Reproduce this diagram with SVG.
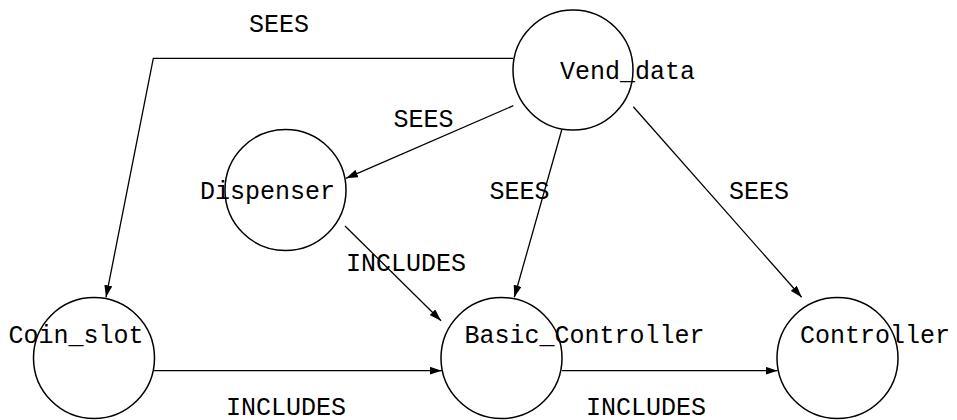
<svg xmlns="http://www.w3.org/2000/svg" width="957" height="420" viewBox="0 0 957 420">
  <defs>
    <marker id="arrow" viewBox="0 0 12 8" refX="12" refY="4" markerWidth="12" markerHeight="8" markerUnits="userSpaceOnUse" orient="auto">
      <path d="M0,0 L12,4 L0,8 Z" fill="#000"/>
    </marker>
    <style>
      .node circle { fill: #fff; stroke: #000; stroke-width: 1.5; }
      .node text, .label { font-family: "Liberation Mono", "Courier New", monospace; font-size: 25px; fill: #000; }
      .edge { fill: none; stroke: #000; stroke-width: 1.3; marker-end: url(#arrow); }
    </style>
  </defs>
  <rect width="957" height="420" fill="#fff"/>

  <!-- module nodes -->
  <g id="vend_data" class="node">
    <circle cx="573" cy="70" r="60"/>
    <text x="560" y="79">Vend_data</text>
  </g>
  <g id="dispenser" class="node">
    <circle cx="285.5" cy="190" r="60.5"/>
    <text x="200" y="199">Dispenser</text>
  </g>
  <g id="coin_slot" class="node">
    <circle cx="94" cy="358" r="60.5"/>
    <text x="8.5" y="343">Coin_slot</text>
  </g>
  <g id="basic_controller" class="node">
    <circle cx="501.5" cy="358" r="60.5"/>
    <text x="464.5" y="343">Basic_Controller</text>
  </g>
  <g id="controller" class="node">
    <circle cx="837.5" cy="358" r="60.5"/>
    <text x="800" y="343">Controller</text>
  </g>

  <!-- relations between modules -->
  <g id="connectors">
    <polyline class="edge" points="513,58.3 153.3,58.3 106,297.3"/>
    <line class="edge" x1="513.3" y1="105.7" x2="346" y2="178.3"/>
    <line class="edge" x1="561.7" y1="130" x2="514.3" y2="297.3"/>
    <line class="edge" x1="633.3" y1="106.7" x2="801.7" y2="297.3"/>
    <line class="edge" x1="345" y1="226" x2="441" y2="320.7"/>
    <line class="edge" x1="153.5" y1="370.7" x2="441.7" y2="370.7"/>
    <line class="edge" x1="562" y1="370.7" x2="777.5" y2="370.7"/>

    <text class="label" x="249" y="31.7">SEES</text>
    <text class="label" x="393.5" y="127.3">SEES</text>
    <text class="label" x="489.5" y="199.3">SEES</text>
    <text class="label" x="729" y="199">SEES</text>
    <text class="label" x="346" y="270.7">INCLUDES</text>
    <text class="label" x="226" y="415">INCLUDES</text>
    <text class="label" x="586" y="415">INCLUDES</text>
  </g>
</svg>
